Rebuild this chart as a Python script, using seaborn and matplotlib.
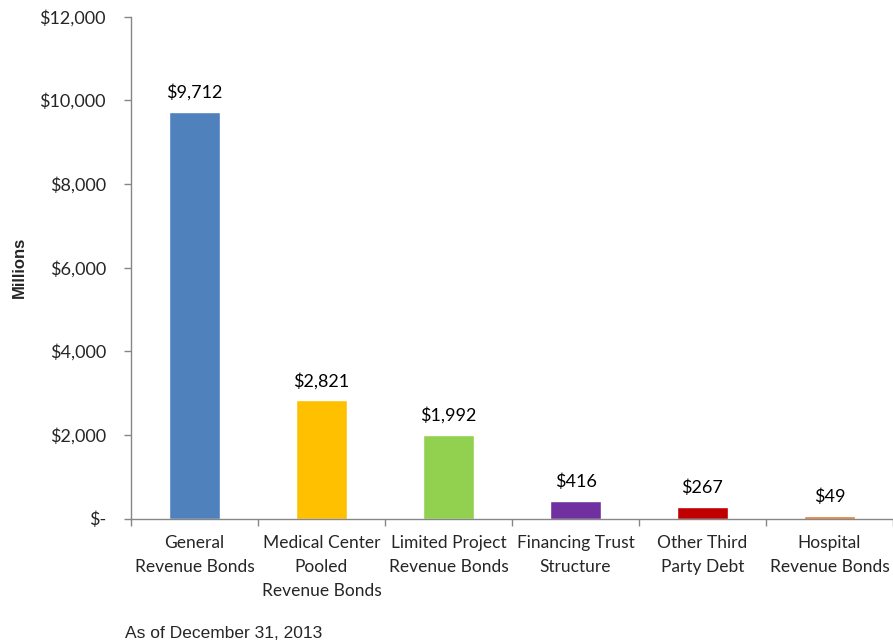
import matplotlib
matplotlib.use("Agg")
import matplotlib.pyplot as plt
import seaborn as sns
import pandas as pd
from matplotlib.ticker import FixedLocator, FuncFormatter

categories = [
    "General\nRevenue Bonds",
    "Medical Center\nPooled\nRevenue Bonds",
    "Limited Project\nRevenue Bonds",
    "Financing Trust\nStructure",
    "Other Third\nParty Debt",
    "Hospital\nRevenue Bonds",
]
values = [9712, 2821, 1992, 416, 267, 49]
colors = ["#4F81BD", "#FFC000", "#92D050", "#7030A0", "#C00000", "#E07A30"]
y_ticks = [0, 2000, 4000, 6000, 8000, 10000, 12000]

df = pd.DataFrame({"category": categories, "value": values})

sns.set_style("white")
plt.rcParams["font.family"] = ["Lato", "DejaVu Sans"]

fig = plt.figure(figsize=(8.93, 6.43), dpi=100)
ax = fig.add_axes([131 / 893, 124.5 / 643, 762 / 893, 502 / 643])

sns.barplot(data=df, x="category", y="value", hue="category", palette=colors,
            width=0.4, legend=False, saturation=1, ax=ax)

def money(v, pos=None):
    return "$-" if v == 0 else f"${v:,.0f}"

for i, v in enumerate(values):
    ax.annotate(money(v), (i, v), xytext=(0, 8), textcoords="offset points",
                ha="center", va="bottom", fontsize=13, color="#000000")

ax.set_xlim(-0.5, len(categories) - 0.5)
ax.set_ylim(0, 12000)
ax.yaxis.set_major_locator(FixedLocator(y_ticks))
ax.yaxis.set_major_formatter(FuncFormatter(money))

spine_col = "#868686"
for side in ["top", "right"]:
    ax.spines[side].set_visible(False)
for side in ["left", "bottom"]:
    ax.spines[side].set_color(spine_col)
    ax.spines[side].set_linewidth(1.0)

ax.tick_params(axis="y", which="major", direction="out", length=5, width=1,
               color=spine_col, labelsize=13, pad=13, left=True)
ax.tick_params(axis="x", which="major", length=0, labelsize=12.5, pad=12)
ax.set_xticks([i - 0.5 for i in range(len(categories) + 1)], minor=True)
ax.tick_params(axis="x", which="minor", direction="out", length=5, width=1,
               color=spine_col, bottom=True)
for lab in ax.get_xticklabels():
    lab.set_linespacing(1.62)

ax.set_xlabel("")
ax.set_ylabel("Millions", fontsize=12, fontweight="bold",
              family=["Liberation Sans"])
ax.yaxis.set_label_coords(-104 / 762, 0.5)

fig.text(125 / 893, 10 / 643, "As of December 31, 2013", ha="left", va="center",
         fontsize=12.5, family=["Liberation Sans"])

fig.savefig("out.png", dpi=100)
